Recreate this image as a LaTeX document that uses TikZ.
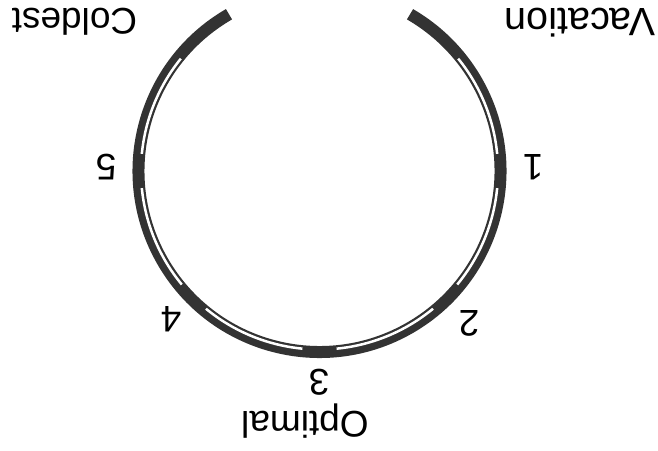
\documentclass[tikz,border=0pt]{standalone}
\usepackage{fontspec}
\setmainfont{Liberation Sans}
\definecolor{ringdark}{HTML}{333333}
\tikzset{
  lbl/.style={rotate=180, anchor=base, inner sep=0pt, text=black, font=\fontsize{37}{44}\selectfont},
  band/.style={ringdark, line width=12pt, line cap=butt},
  gap/.style={white, line width=2.5pt, line cap=butt}
}
\begin{document}
\begin{tikzpicture}[x=1pt,y=1pt]
\useasboundingbox (0,0) rectangle (658,450);
\coordinate (c) at (319.5,279);
% main dark band
\draw[band] ([shift={(120:181)}]c) arc[start angle=120, end angle=420, radius=181];
% white separator line segments
\foreach \a/\b in {141/174.5, 185.5/219.5, 230.5/264.5, 275.5/309.5, 320.5/354.5, 365.5/399}{
  \draw[gap] ([shift={(\a:178.5)}]c) arc[start angle=\a, end angle=\b, radius=178.5];
}
% labels (upside down)
\node[lbl] (coldest) at (74.5,441) {Coldest};
\node[lbl, font=\fontsize{39.5}{46}\selectfont] (vacation) at (580,441) {Vacation};
\node[lbl] (five) at (106,295) {5};
\node[lbl] (one) at (533,295) {1};
\node[lbl] (four) at (171,144) {4};
\node[lbl] (two) at (469,139) {2};
\node[lbl] (three) at (319,81) {3};
\node[lbl] (optimal) at (305,39) {Optimal};
\end{tikzpicture}
\end{document}
